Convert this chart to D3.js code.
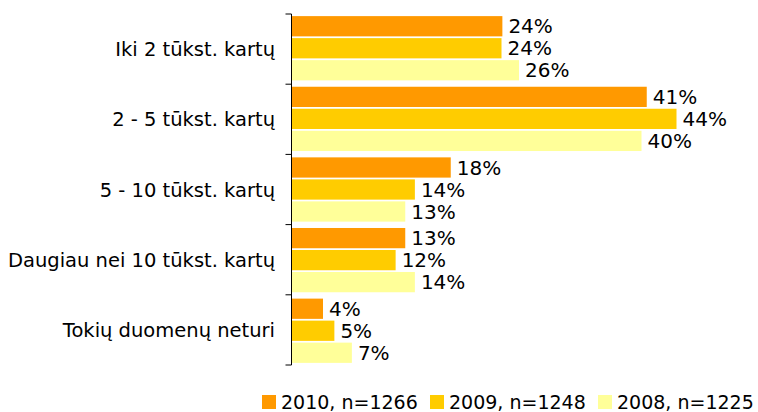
<!DOCTYPE html>
<html><head><meta charset="utf-8">
<script src="https://cdn.jsdelivr.net/npm/d3@7"></script>
<style>body{margin:0;background:#fff}svg{display:block}text{font-family:"DejaVu Sans",sans-serif;fill:#000}</style>
</head><body>
<script>
const categories = ["Iki 2 tūkst. kartų","2 - 5 tūkst. kartų","5 - 10 tūkst. kartų","Daugiau nei 10 tūkst. kartų","Tokių duomenų neturi"];
const seriesNames = ["2010, n=1266","2009, n=1248","2008, n=1225"];
const colors = ["#FF9900","#FFCC00","#FFFF99"];
const values2010 = [24.1, 40.6, 18.2, 13.0, 3.6];
const values2009 = [24.0, 44.0, 14.1, 11.9, 4.9];
const values2008 = [26.0, 40.0, 13.0, 14.1, 6.9];
const labels2010 = ["24%","41%","18%","13%","4%"];
const labels2009 = ["24%","44%","14%","12%","5%"];
const labels2008 = ["26%","40%","13%","14%","7%"];

const series = [values2010, values2009, values2008];
const labels = [labels2010, labels2009, labels2008];

const W = 758, H = 412;
const svg = d3.select("body").append("svg").attr("width", W).attr("height", H);

const x = d3.scaleLinear().domain([0, 50]).range([291.5, 729]);
const y0 = d3.scaleBand().domain(categories).range([14, 365]).paddingInner(0.09).paddingOuter(0.03);
const y1 = d3.scaleBand().domain(d3.range(3)).range([0, y0.bandwidth()]).paddingInner(0.08);

const g = svg.append("g");
categories.forEach((c, i) => {
  series.forEach((s, k) => {
    g.append("rect")
      .attr("x", x(0))
      .attr("y", y0(c) + y1(k))
      .attr("width", x(s[i]) - x(0))
      .attr("height", y1.bandwidth())
      .attr("fill", colors[k]);
    g.append("text")
      .attr("x", x(s[i]) + 6)
      .attr("y", y0(c) + y1(k) + y1.bandwidth() / 2)
      .attr("dy", "0.36em")
      .style("font-size", "20px")
      .text(labels[k][i]);
  });
});

// axis
const ax = svg.append("g");
ax.append("line").attr("x1", x(0)).attr("x2", x(0)).attr("y1", 14).attr("y2", 365).attr("stroke", "#000");
const bounds = d3.range(categories.length + 1).map(i => 14 + i * (351 / categories.length));
bounds.forEach(b => ax.append("line").attr("x1", x(0) - 6).attr("x2", x(0)).attr("y1", b).attr("y2", b).attr("stroke", "#000"));
categories.forEach((c, i) => {
  ax.append("text")
    .attr("x", 275)
    .attr("y", (bounds[i] + bounds[i + 1]) / 2)
    .attr("dy", "0.36em")
    .attr("text-anchor", "end")
    .style("font-size", "19.5px")
    .text(c);
});

// legend
const legX = [262, 430, 598];
seriesNames.forEach((n, k) => {
  svg.append("rect").attr("x", legX[k]).attr("y", 395).attr("width", 14).attr("height", 14).attr("fill", colors[k]);
  svg.append("text").attr("x", legX[k] + 19).attr("y", 402).attr("dy", "0.36em").style("font-size", "19px").text(n);
});
</script>
</body></html>
